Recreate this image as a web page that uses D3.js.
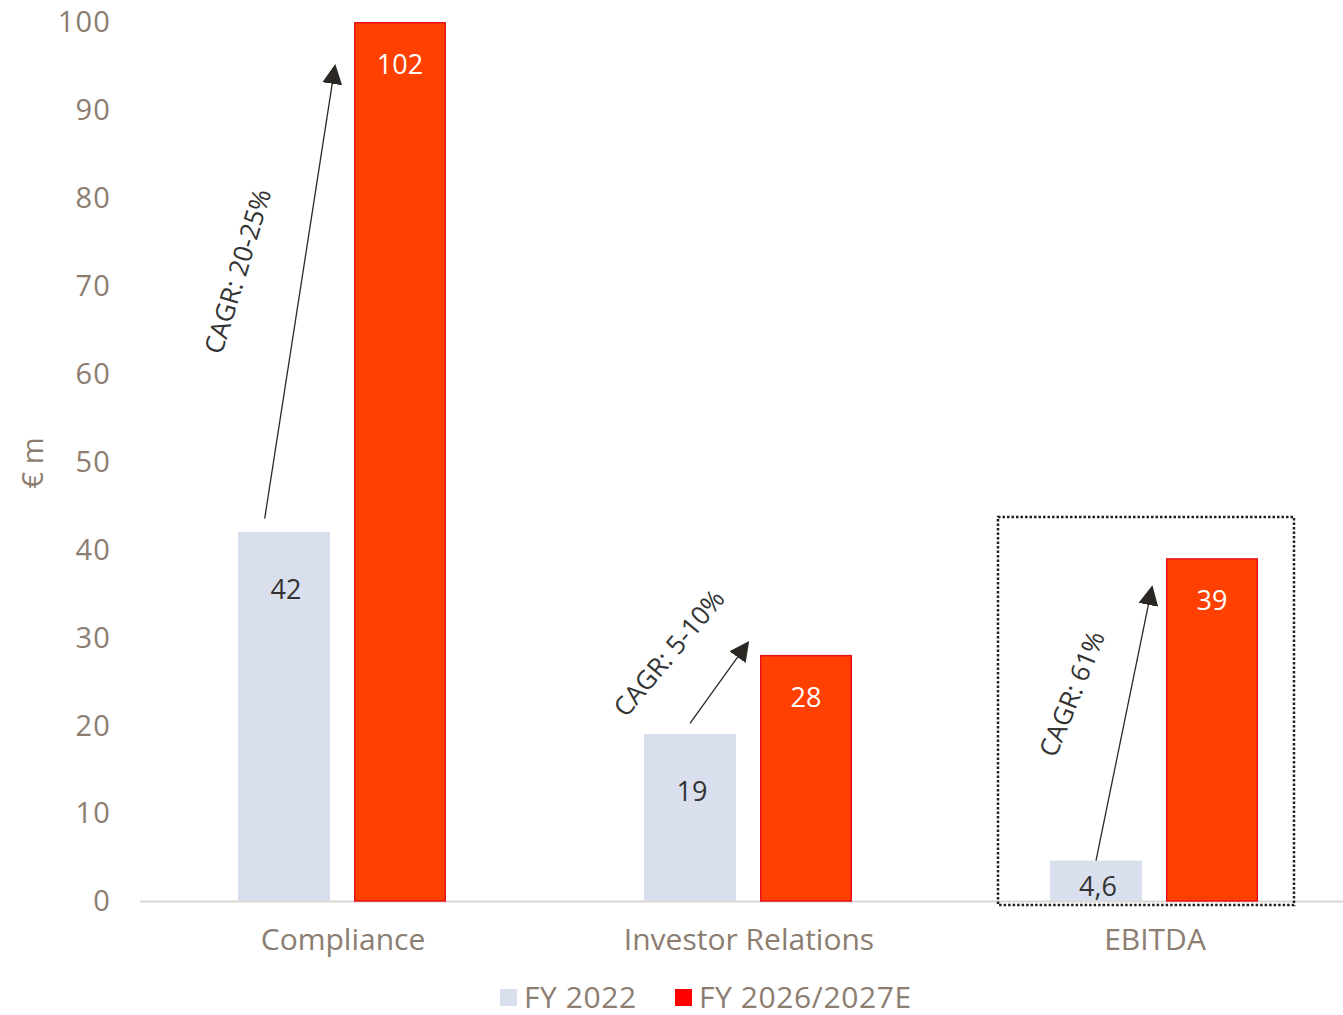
<!DOCTYPE html>
<html>
<head>
<meta charset="utf-8">
<script src="https://cdn.jsdelivr.net/npm/d3@7"></script>
<style>
  html, body { margin: 0; padding: 0; background: #fff; }
  svg { display: block; font-family: "Open Sans", "Noto Sans", sans-serif; }
</style>
</head>
<body>
<svg id="chart" width="1343" height="1015"></svg>
<script>
// ---- data ----
const categories = ["Compliance", "Investor Relations", "EBITDA"];
const seriesNames = ["FY 2022", "FY 2026/2027E"];
const fy2022 = [42, 19, 4.6];
const fy2027 = [102, 28, 39];
const labels2022 = ["42", "19", "4,6"];
const labels2027 = ["102", "28", "39"];
const cagrLabels = ["CAGR: 20-25%", "CAGR: 5-10%", "CAGR: 61%"];
const arrowStartValues = [43.5, 20.2, 4.6];
const arrowEndValues = [95, 29.4, 35.7];
const yTicks = [0, 10, 20, 30, 40, 50, 60, 70, 80, 90, 100];
const highlightCategory = "EBITDA";
const highlightTopValue = 43.7;

// ---- layout ----
const svg = d3.select("#chart");
const colLight = "#dadfee", colRed = "#ff4000", colRedStroke = "#e8101c";
const axisText = "#8b7d70";

const x = d3.scaleBand().domain(categories).range([140, 1358]).paddingInner(0).paddingOuter(0);
const xs = d3.scaleBand().domain(seriesNames).range([98, 306]).paddingInner(24 / 116).paddingOuter(0);
const y = d3.scaleLinear().domain([0, 100]).range([901, 22]).clamp(true);

// defs
const defs = svg.append("defs");
defs.append("marker").attr("id", "arrow").attr("viewBox", "0 0 10 10")
  .attr("refX", 9).attr("refY", 5).attr("markerWidth", 20).attr("markerHeight", 20)
  .attr("markerUnits", "userSpaceOnUse").attr("orient", "auto")
  .append("path").attr("d", "M0,0 L10,5 L0,10 z").attr("fill", "#2b2824");

// y axis tick labels
const yAxis = d3.axisLeft(y).tickValues(yTicks).tickSize(0).tickPadding(0);
const gy = svg.append("g").attr("transform", "translate(111,0)").call(yAxis);
gy.select(".domain").remove();
gy.selectAll("text").attr("fill", axisText).attr("font-size", 29).attr("dy", "0.34em")
  .attr("letter-spacing", 1.2)
  .style("font-family", "'Open Sans', sans-serif");

// y axis title
svg.append("text").attr("transform", "translate(43,463) rotate(-90)")
  .attr("text-anchor", "middle").attr("fill", axisText).attr("font-size", 29).text("€ m");

// baseline
svg.append("line").attr("x1", 140).attr("x2", 1343).attr("y1", y(0) + 0.5).attr("y2", y(0) + 0.5)
  .attr("stroke", "#dcd7d3").attr("stroke-width", 2);

// x axis labels
const xAxis = d3.axisBottom(x).tickSize(0).tickPadding(0);
const gx = svg.append("g").attr("transform", "translate(0,940)").call(xAxis);
gx.select(".domain").remove();
gx.selectAll("text").attr("fill", axisText).attr("font-size", 30).attr("dy", "0.34em")
  .style("font-family", "'Open Sans', sans-serif");

// bars
const rows = categories.map((c, i) => ({ c, i, a: fy2022[i], b: fy2027[i] }));
const g = svg.append("g");
const bx = (c, s) => x(c) + xs(s);

g.selectAll(".b1").data(rows).join("rect").attr("class", "b1")
  .attr("x", d => bx(d.c, seriesNames[0])).attr("width", xs.bandwidth())
  .attr("y", d => y(d.a)).attr("height", d => y(0) - y(d.a)).attr("fill", colLight);

g.selectAll(".b2").data(rows).join("rect").attr("class", "b2")
  .attr("x", d => bx(d.c, seriesNames[1]) + 0.75).attr("width", xs.bandwidth() - 1.5)
  .attr("y", d => y(d.b) + 0.75).attr("height", d => y(0) - y(d.b) - 0.75)
  .attr("fill", colRed).attr("stroke", colRedStroke).attr("stroke-width", 1.5);

// value labels
g.selectAll(".l1").data(rows).join("text").attr("class", "l1")
  .attr("x", d => bx(d.c, seriesNames[0]) + xs.bandwidth() / 2 + 2)
  .attr("y", d => Math.min(y(d.a) + 67, y(0) - 5))
  .attr("text-anchor", "middle").attr("font-size", 27).attr("fill", "#333")
  .text(d => labels2022[d.i]);

g.selectAll(".l2").data(rows).join("text").attr("class", "l2")
  .attr("x", d => bx(d.c, seriesNames[1]) + xs.bandwidth() / 2)
  .attr("y", d => y(d.b) + 52)
  .attr("text-anchor", "middle").attr("font-size", 27).attr("fill", "#fff")
  .text(d => labels2027[d.i]);

// arrows
const arrowX0 = [0.29, 0.5, 0.5];   // fraction across FY2022 bar
const arrowGap = [19, 12, 14];
const arrows = rows.map(d => {
  const x0 = bx(d.c, seriesNames[0]) + xs.bandwidth() * arrowX0[d.i];
  const y0 = y(arrowStartValues[d.i]);
  const x1 = bx(d.c, seriesNames[1]) - arrowGap[d.i];
  const y1 = y(arrowEndValues[d.i]);
  return { ...d, x0, y0, x1, y1 };
});
g.selectAll(".arr").data(arrows).join("line").attr("class", "arr")
  .attr("x1", d => d.x0).attr("y1", d => d.y0).attr("x2", d => d.x1).attr("y2", d => d.y1)
  .attr("stroke", "#2b2824").attr("stroke-width", 1.3).attr("marker-end", "url(#arrow)");

// CAGR labels
const cagrAngle = [-73, -50, -68];
const cagrOffset = [[-62, -21], [-50, -30], [-52, -30]];
g.selectAll(".cagr").data(arrows).join("text").attr("class", "cagr")
  .attr("transform", d => {
    const mx = (d.x0 + d.x1) / 2 + cagrOffset[d.i][0];
    const my = (d.y0 + d.y1) / 2 + cagrOffset[d.i][1];
    return `translate(${mx},${my}) rotate(${cagrAngle[d.i]})`;
  })
  .attr("text-anchor", "middle").attr("dy", "0.35em").attr("font-size", 26).attr("fill", "#333")
  .text(d => cagrLabels[d.i]);

// highlight box
const hc = highlightCategory;
const hx0 = bx(hc, seriesNames[0]) - 52;
const hx1 = bx(hc, seriesNames[1]) + xs.bandwidth() + 36;
svg.append("rect").attr("x", hx0).attr("y", y(highlightTopValue))
  .attr("width", hx1 - hx0).attr("height", y(0) + 4 - y(highlightTopValue))
  .attr("fill", "none").attr("stroke", "#222").attr("stroke-width", 2.5)
  .attr("stroke-dasharray", "2.5,2");

// legend
const legendColors = [colLight, "#ff0000"];
const legendX = [500, 675];
const lg = svg.append("g");
seriesNames.forEach((s, i) => {
  lg.append("rect").attr("x", legendX[i]).attr("y", 989).attr("width", 17).attr("height", 17)
    .attr("fill", legendColors[i]);
  lg.append("text").attr("x", legendX[i] + 24).attr("y", 997).attr("dy", "0.35em")
    .attr("font-size", 30).attr("letter-spacing", 0.6).attr("fill", axisText).text(s);
});
</script>
</body>
</html>
